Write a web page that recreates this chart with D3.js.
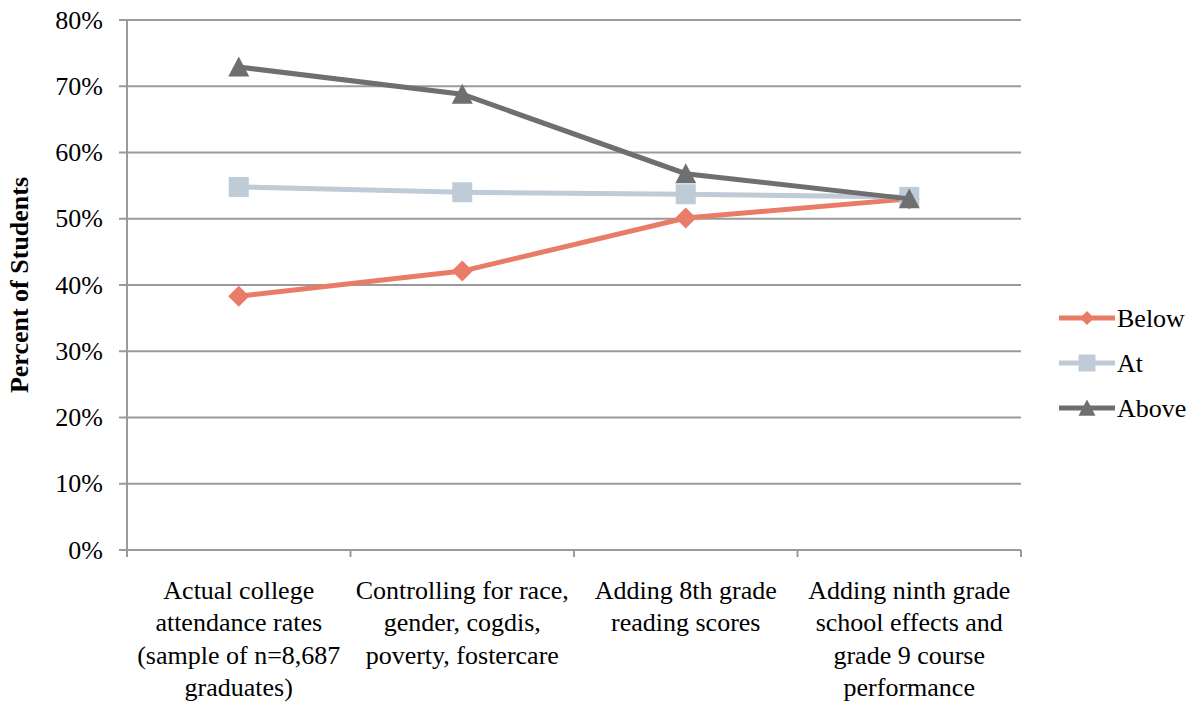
<!DOCTYPE html>
<html><head><meta charset="utf-8">
<script src="https://cdn.jsdelivr.net/npm/d3@7"></script>
<style>body{margin:0;background:#fff}svg{display:block}text{font-family:"Liberation Serif","Times New Roman",serif;fill:#000}</style>
</head><body><svg id="c" width="1196" height="703"></svg>
<script>
const categories = [
  ["Actual college","attendance rates","(sample of n=8,687","graduates)"],
  ["Controlling for race,","gender, cogdis,","poverty, fostercare"],
  ["Adding 8th grade","reading scores"],
  ["Adding ninth grade","school effects and","grade 9 course","performance"]
];
const below = [38.3, 42.1, 50.1, 53.0];
const at = [54.8, 54.0, 53.7, 53.3];
const above = [72.9, 68.8, 56.8, 53.0];
const yTicks = [0,10,20,30,40,50,60,70,80];
const seriesNames = ["Below","At","Above"];
const colors = ["#E97C67","#BFCBD6","#6F6F71"];

const svg = d3.select("#c");
const L=127, R=1021, T=20, B=550;
const FS=26;
const x = d3.scaleBand().domain(d3.range(categories.length)).range([L,R]);
const y = d3.scaleLinear().domain([0,80]).range([B,T]);
const grid="#9a9a9a";

function marker(k, s){
  const h=s/2;
  if(k===0) return `M0,${-h}L${h},0L0,${h}L${-h},0Z`;
  if(k===1) return `M${-h},${-h}H${h}V${h}H${-h}Z`;
  return `M0,${-h*1.0}L${h},${h*0.9}L${-h},${h*0.9}Z`;
}

svg.append("g").selectAll("line").data(yTicks).join("line")
  .attr("x1",L-8).attr("x2",R).attr("y1",d=>y(d)).attr("y2",d=>y(d))
  .attr("stroke",grid).attr("stroke-width",2);
svg.append("line").attr("x1",L).attr("x2",L).attr("y1",T).attr("y2",B+7).attr("stroke",grid).attr("stroke-width",2);
svg.append("g").selectAll("line").data(d3.range(categories.length+1)).join("line")
  .attr("x1",i=>L+i*x.step()).attr("x2",i=>L+i*x.step()).attr("y1",B).attr("y2",B+7)
  .attr("stroke",grid).attr("stroke-width",2);
svg.append("g").selectAll("text").data(yTicks).join("text")
  .attr("x",103).attr("y",d=>y(d)).attr("dy","0.33em").attr("text-anchor","end")
  .attr("font-size",FS).text(d=>d+"%");
svg.append("text").attr("transform",`translate(28,${(T+B)/2}) rotate(-90)`)
  .attr("text-anchor","middle").attr("font-size",FS).attr("font-weight","bold").text("Percent of Students");
categories.forEach((lines,i)=>{
  const cx=x(i)+x.bandwidth()/2;
  const t=svg.append("text").attr("text-anchor","middle").attr("font-size",FS);
  lines.forEach((s,j)=>t.append("tspan").attr("x",cx).attr("y",599+j*32.3).text(s));
});

const data=[below,at,above];
const line=d3.line().x((d,i)=>x(i)+x.bandwidth()/2).y(d=>y(d));
const msz=[21,20,21];
data.forEach((vals,k)=>{
  svg.append("path").datum(vals).attr("d",line).attr("fill","none")
    .attr("stroke",colors[k]).attr("stroke-width",5);
  svg.append("g").selectAll("path").data(vals).join("path")
    .attr("transform",(d,i)=>`translate(${x(i)+x.bandwidth()/2},${y(d)})`)
    .attr("d",marker(k,msz[k])).attr("fill",colors[k]);
});
const lsz=[14,17,17];
seriesNames.forEach((n,k)=>{
  const yy=318+k*45;
  svg.append("line").attr("x1",1059).attr("x2",1115).attr("y1",yy).attr("y2",yy)
    .attr("stroke",colors[k]).attr("stroke-width",5);
  svg.append("path").attr("transform",`translate(1087,${yy})`)
    .attr("d",marker(k,lsz[k])).attr("fill",colors[k]);
  svg.append("text").attr("x",1117).attr("y",yy).attr("dy","0.33em").attr("font-size",FS).text(n);
});
</script></body></html>
